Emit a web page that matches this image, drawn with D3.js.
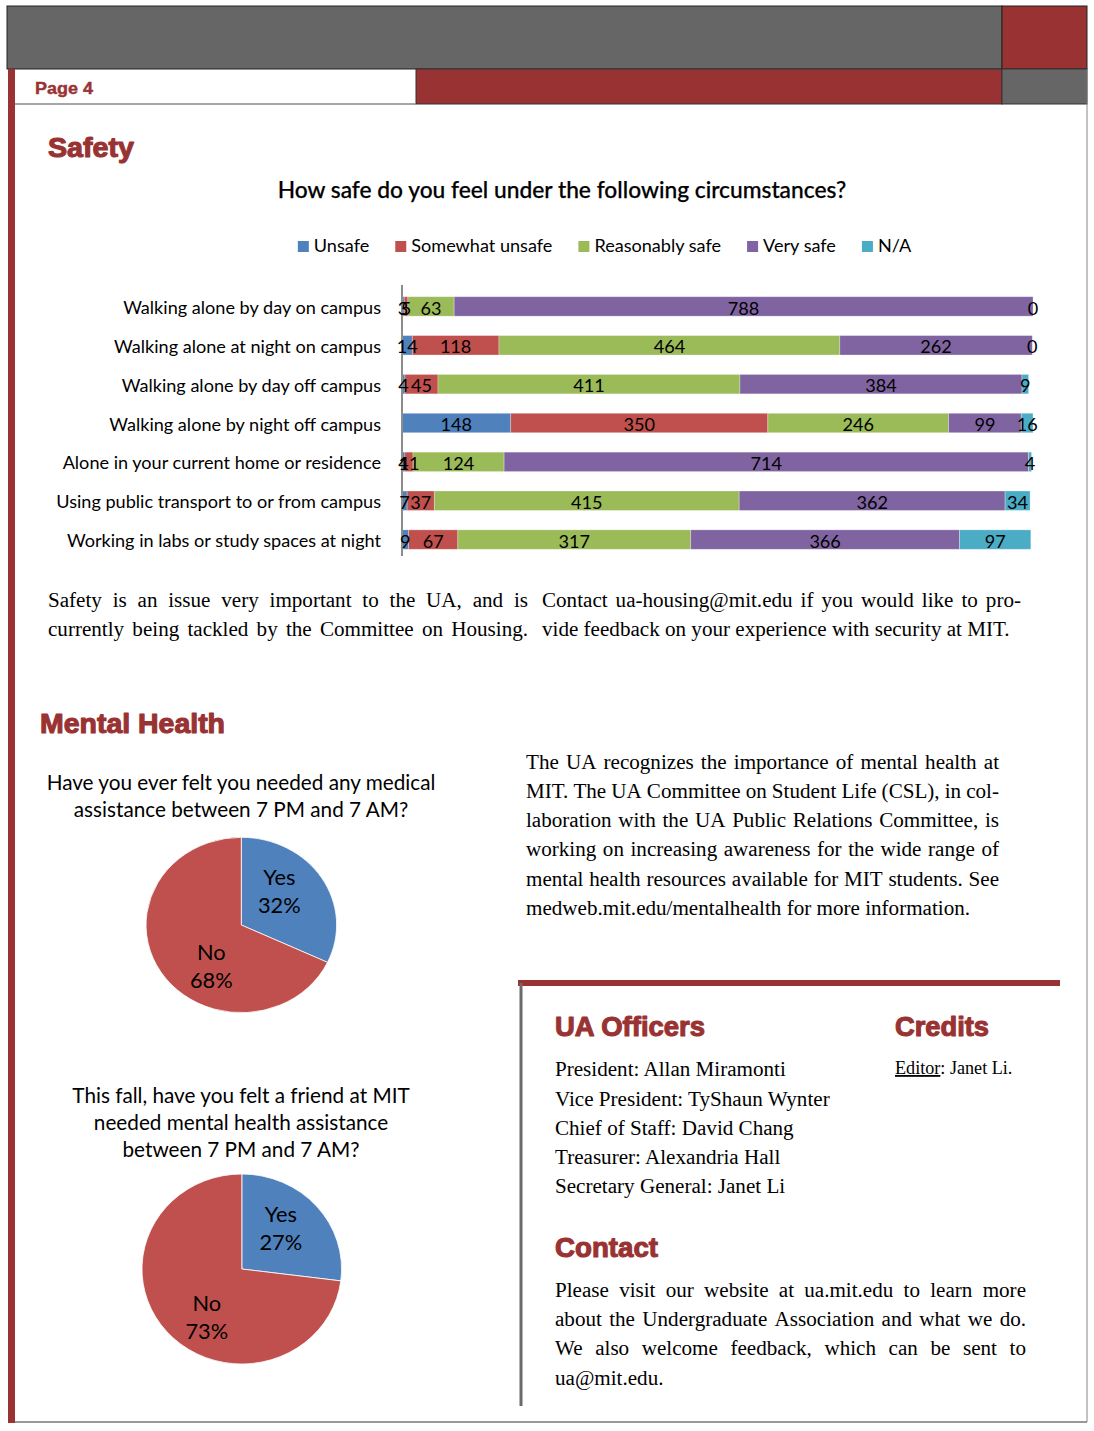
<!DOCTYPE html>
<html><head><meta charset="utf-8">
<script src="https://cdn.jsdelivr.net/npm/d3@7"></script>
<style>html,body{margin:0;padding:0;background:#fff;} svg{display:block}</style>
</head><body>
<svg id="page" width="1094" height="1431"></svg>
<script>
// ---------------- DATA ----------------
const categories = [
  "Walking alone by day on campus",
  "Walking alone at night on campus",
  "Walking alone by day off campus",
  "Walking alone by night off campus",
  "Alone in your current home or residence",
  "Using public transport to or from campus",
  "Working in labs or study spaces at night"
];
const seriesNames = ["Unsafe", "Somewhat unsafe", "Reasonably safe", "Very safe", "N/A"];
const unsafe         = [3, 14, 4, 148, 4, 7, 9];
const somewhatUnsafe = [5, 118, 45, 350, 11, 37, 67];
const reasonablySafe = [63, 464, 411, 246, 124, 415, 317];
const verySafe       = [788, 262, 384, 99, 714, 362, 366];
const notApplicable  = [0, 0, 9, 16, 4, 34, 97];
const seriesColors = ["#4F81BD", "#C0504D", "#9BBB59", "#8064A2", "#4BACC6"];

const pieLabels = ["Yes", "No"];
const pie1Values = [32, 68];
const pie2Values = [27, 73];
const pieColors = ["#4F81BD", "#C0504D"];

const chartTitle = "How safe do you feel under the following circumstances?";
const pie1Title = ["Have you ever felt you needed any medical", "assistance between 7 PM and 7 AM?"];
const pie2Title = ["This fall, have you felt a friend at MIT", "needed mental health assistance", "between 7 PM and 7 AM?"];

// ---------------- HELPERS ----------------
const svg = d3.select("#page");
const RED = "#993333", GRAY = "#666666";
const SANS = "Lato, 'Open Sans', sans-serif";
const SERIF = "'Liberation Serif', serif";
const HEAD = "'Liberation Sans', Arial, sans-serif";

function measure(text, family, weight, size) {
  const t = svg.append("text").attr("font-family", family).attr("font-weight", weight)
    .attr("font-size", size).text(text);
  const w = t.node().getComputedTextLength();
  t.remove();
  return w;
}
function fit(text, family, weight, target) {
  return 100 * target / measure(text, family, weight, 100);
}
function line(g, str, x, y, opts) {
  const t = g.append("text").attr("x", x).attr("y", y)
    .attr("font-family", opts.family).attr("font-size", opts.size)
    .attr("font-weight", opts.weight || "normal").attr("fill", opts.fill || "#000");
  if (opts.justify) {
    const words = str.split(" ");
    const ws = words.map(w => measure(w, opts.family, opts.weight || "normal", opts.size));
    const gap = (opts.width - d3.sum(ws)) / (words.length - 1);
    let cx = x;
    words.forEach((w, i) => { t.append("tspan").attr("x", cx).text(w); cx += ws[i] + gap; });
  } else {
    t.text(str);
    if (opts.anchor) t.attr("text-anchor", opts.anchor);
  }
  return t;
}
function heading(str, x, y, width) {
  svg.append("text").attr("x", x).attr("y", y).attr("font-family", HEAD).attr("font-weight", "bold")
    .attr("font-size", 27).attr("fill", RED).attr("stroke", RED).attr("stroke-width", 1.1)
    .attr("stroke-linejoin", "round")
    .attr("textLength", width).attr("lengthAdjust", "spacingAndGlyphs").text(str);
}

function draw() {
  // ---------- page frame ----------
  svg.append("rect").attr("width", 1094).attr("height", 1431).attr("fill", "#fff");
  svg.append("rect").attr("x", 7).attr("y", 6).attr("width", 995).attr("height", 63)
    .attr("fill", GRAY).attr("stroke", "#222").attr("stroke-width", 1);
  svg.append("rect").attr("x", 1002).attr("y", 6).attr("width", 85).attr("height", 63)
    .attr("fill", RED).attr("stroke", "#222").attr("stroke-width", 1);
  svg.append("rect").attr("x", 416).attr("y", 69).attr("width", 586).attr("height", 35)
    .attr("fill", RED).attr("stroke", "#333").attr("stroke-width", 1);
  svg.append("rect").attr("x", 1002).attr("y", 69).attr("width", 85).attr("height", 35)
    .attr("fill", GRAY).attr("stroke", "#333").attr("stroke-width", 1);
  svg.append("line").attr("x1", 15).attr("x2", 416).attr("y1", 104).attr("y2", 104)
    .attr("stroke", "#888").attr("stroke-width", 1.5);
  svg.append("line").attr("x1", 1087).attr("x2", 1087).attr("y1", 69).attr("y2", 1422)
    .attr("stroke", "#888").attr("stroke-width", 1);
  svg.append("line").attr("x1", 8).attr("x2", 1087).attr("y1", 1422).attr("y2", 1422)
    .attr("stroke", "#777").attr("stroke-width", 1.5);
  svg.append("rect").attr("x", 8).attr("y", 69).attr("width", 7).attr("height", 1354)
    .attr("fill", RED);

  svg.append("text").attr("x", 35).attr("y", 94).attr("font-family", HEAD).attr("font-weight", "bold")
    .attr("font-size", 17).attr("fill", RED).attr("stroke", RED).attr("stroke-width", 0.4)
    .attr("textLength", 58).attr("lengthAdjust", "spacingAndGlyphs").text("Page 4");

  // headings
  heading("Safety", 48, 157, 86);
  heading("Mental Health", 40, 733, 185);
  heading("UA Officers", 555, 1036, 150);
  heading("Credits", 895, 1036, 94);
  heading("Contact", 555, 1257, 103);

  // ---------- bar chart ----------
  const labSize = fit(categories[0], SANS, "normal", 258);
  const titleSize = fit(chartTitle, SANS, "500", 569);
  line(svg, chartTitle, 562, 198, {family: SANS, weight: "500", size: titleSize, anchor: "middle"})
    .attr("stroke", "#000").attr("stroke-width", 0.25);

  const rows = categories.map((c, i) => ({
    category: c,
    "Unsafe": unsafe[i], "Somewhat unsafe": somewhatUnsafe[i], "Reasonably safe": reasonablySafe[i],
    "Very safe": verySafe[i], "N/A": notApplicable[i]
  }));
  const stacked = d3.stack().keys(seriesNames)(rows);
  const x = d3.scaleLinear().domain([0, 900]).range([402, 402 + 900 * 0.7346]);
  const y = d3.scaleBand().domain(categories).range([287, 559]).paddingInner(0.5).paddingOuter(0.25);
  const color = d3.scaleOrdinal().domain(seriesNames).range(seriesColors);

  const chart = svg.append("g");
  const layers = chart.selectAll("g.layer").data(stacked).join("g").attr("class", "layer")
    .attr("fill", d => color(d.key));
  layers.selectAll("rect").data(d => d).join("rect")
    .attr("x", d => x(d[0])).attr("width", d => x(d[1]) - x(d[0]))
    .attr("y", d => y(d.data.category)).attr("height", y.bandwidth())
    .attr("stroke", "rgba(255,255,255,0.35)").attr("stroke-width", 0.8);

  const yAxis = d3.axisLeft(y).tickSize(0).tickPadding(21);
  const ag = chart.append("g").attr("transform", `translate(${x(0)},0)`).call(yAxis);
  ag.select(".domain").attr("stroke", "#8c8c8c").attr("stroke-width", 2)
    .attr("d", `M0,${y.range()[0] - 2}V${y.range()[1] - 3}`);
  ag.selectAll(".tick text").attr("font-family", SANS).attr("font-size", labSize)
    .attr("fill", "#000").attr("dy", "0.42em");

  // value labels (drawn above every bar)
  const labelG = chart.append("g");
  stacked.forEach(layer => {
    labelG.append("g").selectAll("text").data(layer).join("text")
      .attr("x", d => (x(d[0]) + x(d[1])) / 2)
      .attr("y", d => y(d.data.category) + y.bandwidth() / 2)
      .attr("dy", "0.45em").attr("text-anchor", "middle")
      .attr("font-family", SANS).attr("font-size", labSize).attr("fill", "#000")
      .text(d => d.data[layer.key]);
  });

  // legend
  const legSize = labSize;
  const legendItems = seriesNames.map(n => ({name: n, w: measure(n, SANS, "normal", legSize)}));
  const sq = 11, gapSq = 5, gapItem = 26;
  const total = d3.sum(legendItems, d => sq + gapSq + d.w) + gapItem * (legendItems.length - 1);
  let lx = 604.5 - total / 2;
  const lg = svg.append("g");
  legendItems.forEach(it => {
    lg.append("rect").attr("x", lx).attr("y", 241).attr("width", sq).attr("height", sq).attr("fill", color(it.name));
    lg.append("text").attr("x", lx + sq + gapSq).attr("y", 252).attr("font-family", SANS)
      .attr("font-size", legSize).attr("fill", "#000").text(it.name);
    lx += sq + gapSq + it.w + gapItem;
  });

  // ---------- body text ----------
  const serifSize = fit("President: Allan Miramonti", SERIF, "normal", 231);
  const so = {family: SERIF, size: serifSize};
  line(svg, "Safety is an issue very important to the UA, and is", 48, 607, {...so, justify: true, width: 480});
  line(svg, "currently being tackled by the Committee on Housing.", 48, 636, {...so, justify: true, width: 480});
  line(svg, "Contact ua-housing@mit.edu if you would like to pro-", 542, 607, {...so, justify: true, width: 479});
  line(svg, "vide feedback on your experience with security at MIT.", 542, 636, so);

  const mh = [
    "The UA recognizes the importance of mental health at",
    "MIT. The UA Committee on Student Life (CSL), in col-",
    "laboration with the UA Public Relations Committee, is",
    "working on increasing awareness for the wide range of",
    "mental health resources available for MIT students. See",
    "medweb.mit.edu/mentalhealth for more information."
  ];
  const mhY = [769, 798, 827, 856, 886, 915];
  mh.forEach((s, i) => line(svg, s, 526, mhY[i], {...so, justify: i < mh.length - 1, width: 473}));

  // officers box
  svg.append("line").attr("x1", 518).attr("x2", 1060).attr("y1", 983).attr("y2", 983)
    .attr("stroke", RED).attr("stroke-width", 6);
  svg.append("line").attr("x1", 521).attr("x2", 521).attr("y1", 983).attr("y2", 1406)
    .attr("stroke", "#6b6b6b").attr("stroke-width", 3);
  const officers = ["President: Allan Miramonti", "Vice President: TyShaun Wynter",
    "Chief of Staff: David Chang", "Treasurer: Alexandria Hall", "Secretary General: Janet Li"];
  const offY = [1076, 1106, 1135, 1164, 1193];
  officers.forEach((s, i) => line(svg, s, 555, offY[i], so));
  const edSize = serifSize * 0.86;
  const ed = svg.append("text").attr("x", 895).attr("y", 1074).attr("font-family", SERIF)
    .attr("font-size", edSize).attr("fill", "#000");
  ed.append("tspan").attr("text-decoration", "underline").text("Editor");
  ed.append("tspan").text(": Janet Li.");

  const contact = [
    "Please visit our website at ua.mit.edu to learn more",
    "about the Undergraduate Association and what we do.",
    "We also welcome feedback, which can be sent to",
    "ua@mit.edu."
  ];
  const cY = [1297, 1326, 1355, 1385];
  contact.forEach((s, i) => line(svg, s, 555, cY[i], {...so, justify: i < 3, width: 471}));

  // ---------- pies ----------
  const pieTitleSize = fit(pie1Title[0], SANS, "normal", 389);
  const pto = {family: SANS, size: pieTitleSize, anchor: "middle"};
  pie1Title.forEach((s, i) => line(svg, s, 241, 790 + i * 27, pto));
  pie2Title.forEach((s, i) => line(svg, s, 241, 1103 + i * 27, pto));

  const pie = d3.pie().sort(null);
  const arc = d3.arc().innerRadius(0).outerRadius(1);
  function drawPie(values, cx, cy, rx, ry, labelOffsets) {
    const g = svg.append("g").attr("transform", `translate(${cx},${cy})`);
    g.append("g").attr("transform", `scale(${rx},${ry})`)
      .selectAll("path").data(pie(values)).join("path")
      .attr("d", arc).attr("fill", (d, i) => pieColors[i])
      .attr("stroke", "#fff").attr("stroke-width", 0.8).attr("vector-effect", "non-scaling-stroke");
    const ls = pieTitleSize * 1.05;
    pie(values).forEach((d, i) => {
      const [ox, oy] = labelOffsets[i];
      const t = g.append("text").attr("text-anchor", "middle").attr("font-family", SANS)
        .attr("font-size", ls).attr("fill", "#000");
      t.append("tspan").attr("x", ox).attr("y", oy - 7).text(pieLabels[i]);
      t.append("tspan").attr("x", ox).attr("y", oy + 21).text(d.data + "%");
    });
  }
  drawPie(pie1Values, 241.3, 925, 95.3, 87.7, [[38, -33], [-30, 42]]);
  drawPie(pie2Values, 241.8, 1269, 99.8, 95, [[39, -40.5], [-35, 48.5]]);
}

(document.fonts && document.fonts.ready ? document.fonts.ready : Promise.resolve()).then(draw);
</script>
</body></html>
